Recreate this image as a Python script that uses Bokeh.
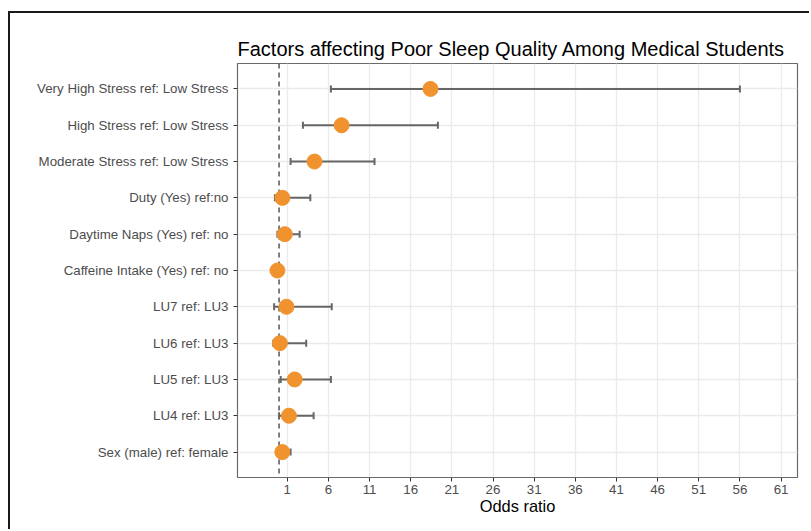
from bokeh.plotting import figure
from bokeh.models import FactorRange, Range1d, Span, Whisker, ColumnDataSource, FixedTicker, TeeHead
from bokeh.embed import file_html
from bokeh.resources import INLINE

# Data (top to bottom as displayed)
labels = [
    "Very High Stress ref: Low Stress",
    "High Stress ref: Low Stress",
    "Moderate Stress ref: Low Stress",
    "Duty (Yes) ref:no",
    "Daytime Naps (Yes) ref: no",
    "Caffeine Intake (Yes) ref: no",
    "LU7 ref: LU3",
    "LU6 ref: LU3",
    "LU5 ref: LU3",
    "LU4 ref: LU3",
    "Sex (male) ref: female",
]
odds = [18.4, 7.6, 4.3, 0.4, 0.7, -0.2, 0.9, 0.1, 1.9, 1.2, 0.4]
lower = [6.3, 2.9, 1.4, -0.5, -0.2, -0.5, -0.6, -0.7, 0.2, 0.0, -0.1]
upper = [56.0, 19.3, 11.6, 3.8, 2.5, 0.1, 6.4, 3.3, 6.3, 4.2, 1.4]
x_ticks = [1, 6, 11, 16, 21, 26, 31, 36, 41, 46, 51, 56, 61]
ref_line = 0

src = ColumnDataSource(dict(label=labels, odds=odds, lower=lower, upper=upper))

p = figure(
    width=801, height=518,
    output_backend="svg", toolbar_location=None,
    y_range=FactorRange(factors=labels[::-1], range_padding=0.2, range_padding_units="absolute"),
    x_range=Range1d(-5.05, 63.0),
    min_border_left=227, min_border_right=14, min_border_top=50, min_border_bottom=54,
    background_fill_color="white", border_fill_color="white",
)
p.styles = {
    "margin-left": "8px", "margin-top": "11px",
    "border-left": "2px solid #1a1a1a", "border-top": "2px solid #1a1a1a",
}

p.title.text = "Factors affecting Poor Sleep Quality Among Medical Students"
p.title.text_font = "Liberation Sans"
p.title.text_font_size = "20px"
p.title.text_font_style = "normal"
p.title.text_color = "black"
p.title.align = "left"
p.title.standoff = 7

p.outline_line_color = "#6a6a6a"
p.outline_line_width = 1.2

p.xgrid.grid_line_color = "#ebebeb"
p.ygrid.grid_line_color = "#ebebeb"
p.xgrid.grid_line_width = 1.3
p.ygrid.grid_line_width = 1.3

for ax in (p.xaxis, p.yaxis):
    ax.axis_line_color = None
    ax.major_tick_line_color = "#333333"
    ax.major_tick_out = 4
    ax.major_tick_in = 0
    ax.minor_tick_line_color = None
    ax.major_label_text_font = "Liberation Sans"
    ax.major_label_text_font_size = "13.3px"
    ax.major_label_text_color = "#4d4d4d"

p.xaxis.ticker = FixedTicker(ticks=x_ticks)
p.xaxis.major_label_standoff = 3
p.yaxis.major_label_standoff = 5
p.xaxis.axis_label = "Odds ratio"
p.xaxis.axis_label_text_font = "Liberation Sans"
p.xaxis.axis_label_text_font_size = "16.4px"
p.xaxis.axis_label_text_font_style = "normal"
p.xaxis.axis_label_text_color = "black"
p.xaxis.axis_label_standoff = 0

vline = Span(location=ref_line, dimension="height", line_dash="5 4", line_color="#555555", line_width=1.5, level="underlay")
p.add_layout(vline)

w = Whisker(source=src, base="label", lower="lower", upper="upper", dimension="width",
            line_color="#666666", line_width=2, level="underlay")
w.upper_head = TeeHead(size=7, line_color="#666666", line_width=2)
w.lower_head = TeeHead(size=7, line_color="#666666", line_width=2)
p.add_layout(w)

p.scatter(x="odds", y="label", source=src, size=15, fill_color="#F0932F", line_color="#F0932F")

open("out.html", "w").write(file_html(p, INLINE))
